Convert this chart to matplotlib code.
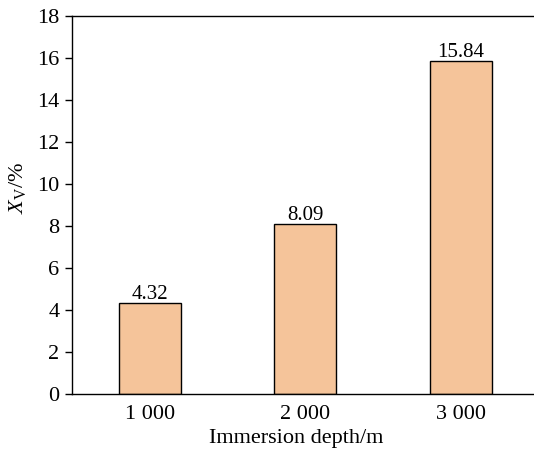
import matplotlib
matplotlib.use("Agg")
import matplotlib.pyplot as plt

depths = [1000, 2000, 3000]
depth_labels = ["1 000", "2 000", "3 000"]
xv_values = [4.32, 8.09, 15.84]
value_labels = ["4.32", "8.09", "15.84"]
yticks = [0, 2, 4, 6, 8, 10, 12, 14, 16, 18]

plt.rcParams['font.family'] = ['Liberation Serif', 'DejaVu Serif']
plt.rcParams['mathtext.fontset'] = 'custom'
plt.rcParams['mathtext.rm'] = 'Liberation Serif'
plt.rcParams['mathtext.it'] = 'Liberation Serif:italic'

fig = plt.figure(figsize=(5.34, 4.54), dpi=100)
ax = fig.add_axes([72/534, 60/454, 466.5/534, 378/454])

ax.bar(depths, xv_values, width=400, color='#F5C49A', edgecolor='black', linewidth=1.0)
for x, v, lab in zip(depths, xv_values, value_labels):
    ax.annotate(lab, (x, v), xytext=(0, 3), textcoords='offset points',
                ha='center', va='baseline', fontsize=15)

ax.set_xlim(500, 3500)
ax.set_ylim(0, 18)
ax.set_xticks(depths)
ax.set_xticklabels(depth_labels)
ax.set_yticks(yticks)
ax.tick_params(axis='y', direction='out', length=5, width=1, labelsize=16, pad=4)
ax.tick_params(axis='x', length=0, labelsize=16, pad=8)
for s in ['left', 'bottom', 'top']:
    ax.spines[s].set_linewidth(1.0)
ax.spines['right'].set_visible(False)

ax.set_xlabel('Immersion depth/m', fontsize=16)
ax.set_ylabel(r'$X_{\mathrm{V}}$/%', fontsize=16)
ax.xaxis.set_label_coords(0.481, -0.093)
ax.yaxis.set_label_coords(-0.094, 0.545)

fig.savefig('out.png', dpi=100)
